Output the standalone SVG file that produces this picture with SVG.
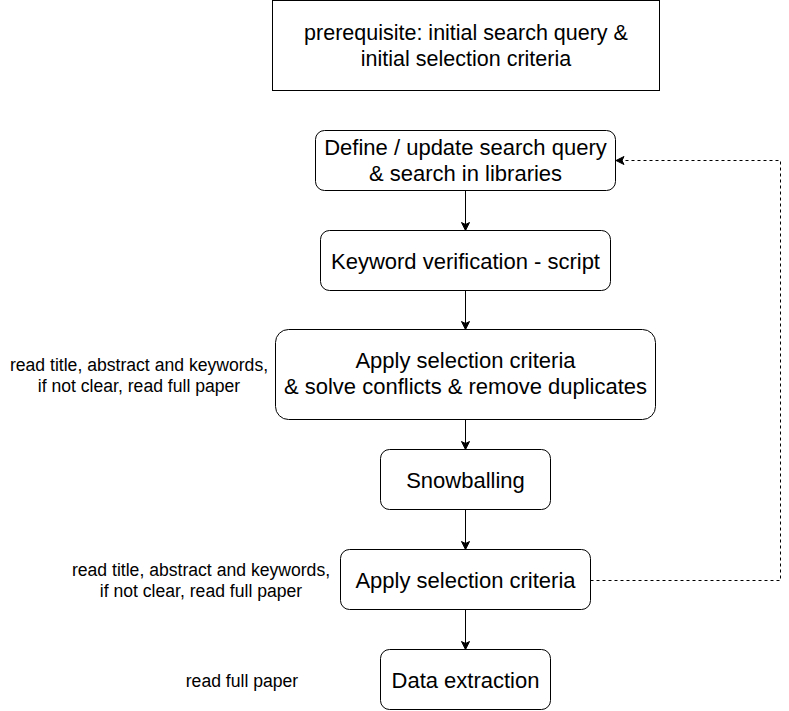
<svg xmlns="http://www.w3.org/2000/svg" width="789" height="711" viewBox="0 0 789 711">
<style>
  .box { fill: #ffffff; stroke: #000000; stroke-width: 1; }
  .t { font-family: "Liberation Sans", Arial, Helvetica, sans-serif; font-size: 22px; fill: #000000; text-anchor: middle; }
  .s { font-family: "Liberation Sans", Arial, Helvetica, sans-serif; font-size: 17.6px; fill: #000000; text-anchor: middle; }
  .edge { fill: none; stroke: #000000; stroke-width: 1; }
  .dash { stroke-dasharray: 3 3; }
</style>
<defs>
  <marker id="arrow" markerUnits="userSpaceOnUse" markerWidth="10" markerHeight="10" refX="9" refY="5" orient="auto">
    <path d="M1,1 L9,5 L1,9 L3,5 Z" fill="#000000" stroke="#000000" stroke-width="1" stroke-linejoin="miter"/>
  </marker>
</defs>
<rect width="789" height="711" fill="#ffffff"/>

<g id="connectors">
  <line class="edge" x1="465.5" y1="190.5" x2="465.5" y2="230.5" marker-end="url(#arrow)"/>
  <line class="edge" x1="465.5" y1="290.5" x2="465.5" y2="329.5" marker-end="url(#arrow)"/>
  <line class="edge" x1="465.5" y1="419.5" x2="465.5" y2="449.5" marker-end="url(#arrow)"/>
  <line class="edge" x1="465.5" y1="509.5" x2="465.5" y2="549.5" marker-end="url(#arrow)"/>
  <line class="edge" x1="465.5" y1="609.5" x2="465.5" y2="649.5" marker-end="url(#arrow)"/>
  <polyline class="edge dash" points="590.5,580.5 780.5,580.5 780.5,160.5 616,160.5" marker-end="url(#arrow)"/>
</g>

<g id="prerequisite">
  <rect class="box" x="272.5" y="0.5" width="387" height="90"/>
  <text class="t" style="font-size:21.5px" x="466" y="39.5">prerequisite: initial search query &amp;</text>
  <text class="t" style="font-size:21.5px" x="466" y="65.5">initial selection criteria</text>
</g>

<g id="define">
  <rect class="box" x="315.5" y="130.5" width="300" height="60" rx="9" ry="9"/>
  <text class="t" x="465.5" y="154.5">Define / update search query</text>
  <text class="t" x="465.5" y="181">&amp; search in libraries</text>
</g>

<g id="keyword">
  <rect class="box" x="320.5" y="230.5" width="290" height="60" rx="9" ry="9"/>
  <text class="t" x="465.5" y="268.5">Keyword verification - script</text>
</g>

<g id="apply1">
  <rect class="box" x="275.5" y="329.5" width="380" height="90" rx="13" ry="13"/>
  <text class="t" x="465.5" y="367.5">Apply selection criteria</text>
  <text class="t" x="465.5" y="394">&amp; solve conflicts &amp; remove duplicates</text>
</g>

<g id="note1">
  <text class="s" x="139" y="370.5">read title, abstract and keywords,</text>
  <text class="s" x="139" y="391.5">if not clear, read full paper</text>
</g>

<g id="snowballing">
  <rect class="box" x="380.5" y="449.5" width="170" height="60" rx="9" ry="9"/>
  <text class="t" x="465.5" y="487.5">Snowballing</text>
</g>

<g id="apply2">
  <rect class="box" x="340.5" y="549.5" width="250" height="60" rx="9" ry="9"/>
  <text class="t" x="465.5" y="587.5">Apply selection criteria</text>
</g>

<g id="note2">
  <text class="s" x="201" y="576">read title, abstract and keywords,</text>
  <text class="s" x="201" y="597">if not clear, read full paper</text>
</g>

<g id="extraction">
  <rect class="box" x="380.5" y="649.5" width="170" height="60" rx="9" ry="9"/>
  <text class="t" x="465.5" y="687.5">Data extraction</text>
</g>

<g id="note3">
  <text class="s" x="242" y="687">read full paper</text>
</g>
</svg>
